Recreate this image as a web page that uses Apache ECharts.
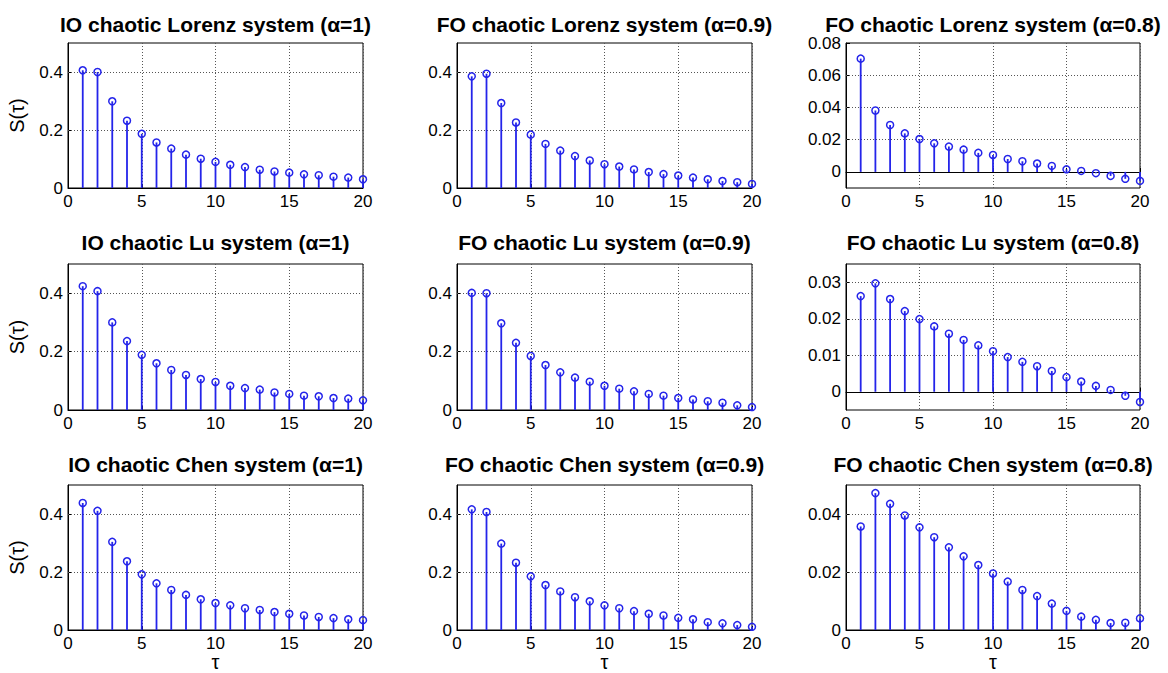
<!DOCTYPE html>
<html><head><meta charset="utf-8">
<script src="https://cdn.jsdelivr.net/npm/echarts@6/dist/echarts.min.js"></script>
<style>html,body{margin:0;padding:0;background:#fff}#c{width:1168px;height:673px}</style>
</head><body><div id="c"></div>
<script>
// ---------- data ----------
const tau = [1,2,3,4,5,6,7,8,9,10,11,12,13,14,15,16,17,18,19,20];
const xTicks = [0,5,10,15,20];
const titles = [
  'IO chaotic Lorenz system (\u03b1=1)', 'FO chaotic Lorenz system (\u03b1=0.9)', 'FO chaotic Lorenz system (\u03b1=0.8)',
  'IO chaotic Lu system (\u03b1=1)', 'FO chaotic Lu system (\u03b1=0.9)', 'FO chaotic Lu system (\u03b1=0.8)',
  'IO chaotic Chen system (\u03b1=1)', 'FO chaotic Chen system (\u03b1=0.9)', 'FO chaotic Chen system (\u03b1=0.8)'
];
const lorenzIO  = [0.406,0.400,0.299,0.232,0.187,0.157,0.136,0.115,0.101,0.090,0.080,0.072,0.063,0.057,0.053,0.047,0.044,0.039,0.036,0.030];
const lorenz09  = [0.385,0.394,0.293,0.226,0.184,0.152,0.129,0.110,0.095,0.082,0.074,0.064,0.055,0.048,0.043,0.036,0.030,0.024,0.020,0.014];
const lorenz08  = [0.0703,0.0381,0.0291,0.0239,0.0204,0.0177,0.0157,0.0138,0.0118,0.0105,0.0080,0.0066,0.0052,0.0037,0.0016,0.0006,-0.0008,-0.0025,-0.0043,-0.0056];
const luIO      = [0.424,0.407,0.300,0.236,0.189,0.160,0.137,0.120,0.106,0.096,0.083,0.075,0.070,0.060,0.055,0.049,0.047,0.041,0.039,0.033];
const lu09      = [0.401,0.400,0.297,0.230,0.185,0.154,0.129,0.111,0.097,0.083,0.073,0.064,0.055,0.049,0.041,0.036,0.030,0.025,0.016,0.010];
const lu08      = [0.0262,0.0297,0.0254,0.0221,0.0199,0.0179,0.0159,0.0142,0.0127,0.0111,0.0095,0.0082,0.0070,0.0057,0.0040,0.0028,0.0016,0.0005,-0.0011,-0.0028];
const chenIO    = [0.438,0.411,0.304,0.237,0.192,0.161,0.138,0.121,0.106,0.093,0.085,0.075,0.069,0.062,0.056,0.050,0.045,0.041,0.037,0.034];
const chen09    = [0.416,0.407,0.298,0.232,0.185,0.155,0.133,0.113,0.099,0.085,0.075,0.065,0.056,0.050,0.042,0.037,0.027,0.023,0.017,0.011];
const chen08    = [0.0357,0.0472,0.0435,0.0395,0.0354,0.0320,0.0285,0.0254,0.0224,0.0195,0.0167,0.0138,0.0117,0.0091,0.0066,0.0046,0.0035,0.0024,0.0025,0.0040];
const seriesValues = [lorenzIO, lorenz09, lorenz08, luIO, lu09, lu08, chenIO, chen09, chen08];

const yTicksMain   = [0,0.2,0.4];
const yTicksLor08  = [0,0.02,0.04,0.06,0.08];
const yTicksLu08   = [0,0.01,0.02,0.03];
const yTicksChen08 = [0,0.02,0.04];
const yTickSets = [yTicksMain, yTicksMain, yTicksLor08, yTicksMain, yTicksMain, yTicksLu08, yTicksMain, yTicksMain, yTicksChen08];
const yMins = [0, 0, -0.01, 0, 0, -0.005, 0, 0, 0];
const yMaxs = [0.5, 0.5, 0.08, 0.5, 0.5, 0.035, 0.5, 0.5, 0.05];
const yIntervals = [0.1, 0.1, 0.01, 0.1, 0.1, 0.005, 0.1, 0.1, 0.01];
const yLabel = 'S(\u03c4)';
const xLabel = '\u03c4';

// ---------- layout ----------
const colLeft = [68, 457, 846];
const colWidth = [295, 295, 294];
const rowTop = [43, 264, 485];
const rowHeight = [145, 146, 145];
const titleY = [24, 242, 464];
const stemColor = '#2424ea';
const font = "'Liberation Sans', Arial, Helvetica, sans-serif";

const grids = [], xAxes = [], yAxes = [], series = [], graphics = [];
for (let i = 0; i < 9; i++) {
  const r = Math.floor(i / 3), c = i % 3;
  grids.push({left: colLeft[c], top: rowTop[r], width: colWidth[c], height: rowHeight[r],
    show: true, borderColor: '#000', borderWidth: 1, backgroundColor: 'transparent', containLabel: false});
  xAxes.push({type: 'value', gridIndex: i, min: xTicks[0], max: xTicks[xTicks.length - 1], interval: 5,
    axisLine: {show: true, lineStyle: {color: '#000', width: 1}},
    axisTick: {show: true, inside: true, length: 4, lineStyle: {color: '#000'}},
    axisLabel: {fontSize: 17, color: '#000', fontFamily: font, margin: 5},
    splitLine: {show: true, lineStyle: {color: '#555', type: [1, 2], width: 1}}
  });
  const ticks = yTickSets[i];
  yAxes.push({type: 'value', gridIndex: i, min: yMins[i], max: yMaxs[i], interval: yIntervals[i],
    axisLine: {show: true, lineStyle: {color: '#000', width: 1}},
    axisTick: {show: true, inside: true, length: 4, lineStyle: {color: '#000'}, customValues: ticks},
    axisLabel: {fontSize: 17, color: '#000', fontFamily: font, margin: 5, customValues: ticks,
      showMinLabel: true, showMaxLabel: true,
      formatter: v => ticks.some(t => Math.abs(t - v) < 1e-9) ? String(Math.round(v * 1000) / 1000) : ''},
    splitLine: {show: false}
  });
  const data = tau.map((t, k) => [t, seriesValues[i][k]]);
  const mlData = ticks.filter(v => v > yMins[i] + 1e-9 && v < yMaxs[i] - 1e-9 && !(v === 0 && yMins[i] < 0)).map(v => ({yAxis: v}));
  if (yMins[i] < 0) mlData.push({yAxis: 0, lineStyle: {type: 'solid', color: '#000', width: 1}});
  series.push({type: 'custom', xAxisIndex: i, yAxisIndex: i, data: data, z: 2, silent: true,
    renderItem: (params, api) => {
      const x = api.value(0), y = api.value(1);
      const p0 = api.coord([x, 0]), p1 = api.coord([x, y]);
      return {type: 'line', shape: {x1: p0[0], y1: p0[1], x2: p1[0], y2: p1[1]},
        style: {stroke: stemColor, lineWidth: 1.8}};
    }
  });
  series.push({type: 'scatter', xAxisIndex: i, yAxisIndex: i, data: data, z: 3, silent: true,
    symbol: 'circle', symbolSize: 7,
    itemStyle: {color: 'rgba(0,0,0,0)', borderColor: stemColor, borderWidth: 1.5, opacity: 1},
    emphasis: {disabled: true},
    markLine: {silent: true, symbol: ['none', 'none'], z: 1, animation: false,
      label: {show: false}, lineStyle: {color: '#555', type: [1, 2], width: 1}, emphasis: {disabled: true},
      data: mlData}
  });
  graphics.push({type: 'text', x: colLeft[c] + colWidth[c] / 2, y: titleY[r], silent: true,
    style: {text: titles[i], font: 'bold 21px ' + font, fill: '#000', textAlign: 'center', textVerticalAlign: 'middle'}});
}
for (let r = 0; r < 3; r++) {
  graphics.push({type: 'text', x: 17, y: rowTop[r] + rowHeight[r] / 2, rotation: Math.PI / 2, silent: true,
    style: {text: yLabel, font: '20px ' + font, fill: '#000', textAlign: 'center', textVerticalAlign: 'middle'}});
}
for (let c = 0; c < 3; c++) {
  graphics.push({type: 'text', x: colLeft[c] + colWidth[c] / 2, y: 662, silent: true,
    style: {text: xLabel, font: '20px ' + font, fill: '#000', textAlign: 'center', textVerticalAlign: 'middle'}});
}

const chart = echarts.init(document.getElementById('c'), null, {renderer: 'svg', width: 1168, height: 673});
chart.setOption({
  animation: false,
  backgroundColor: '#fff',
  grid: grids, xAxis: xAxes, yAxis: yAxes, series: series, graphic: graphics
});
</script></body></html>
